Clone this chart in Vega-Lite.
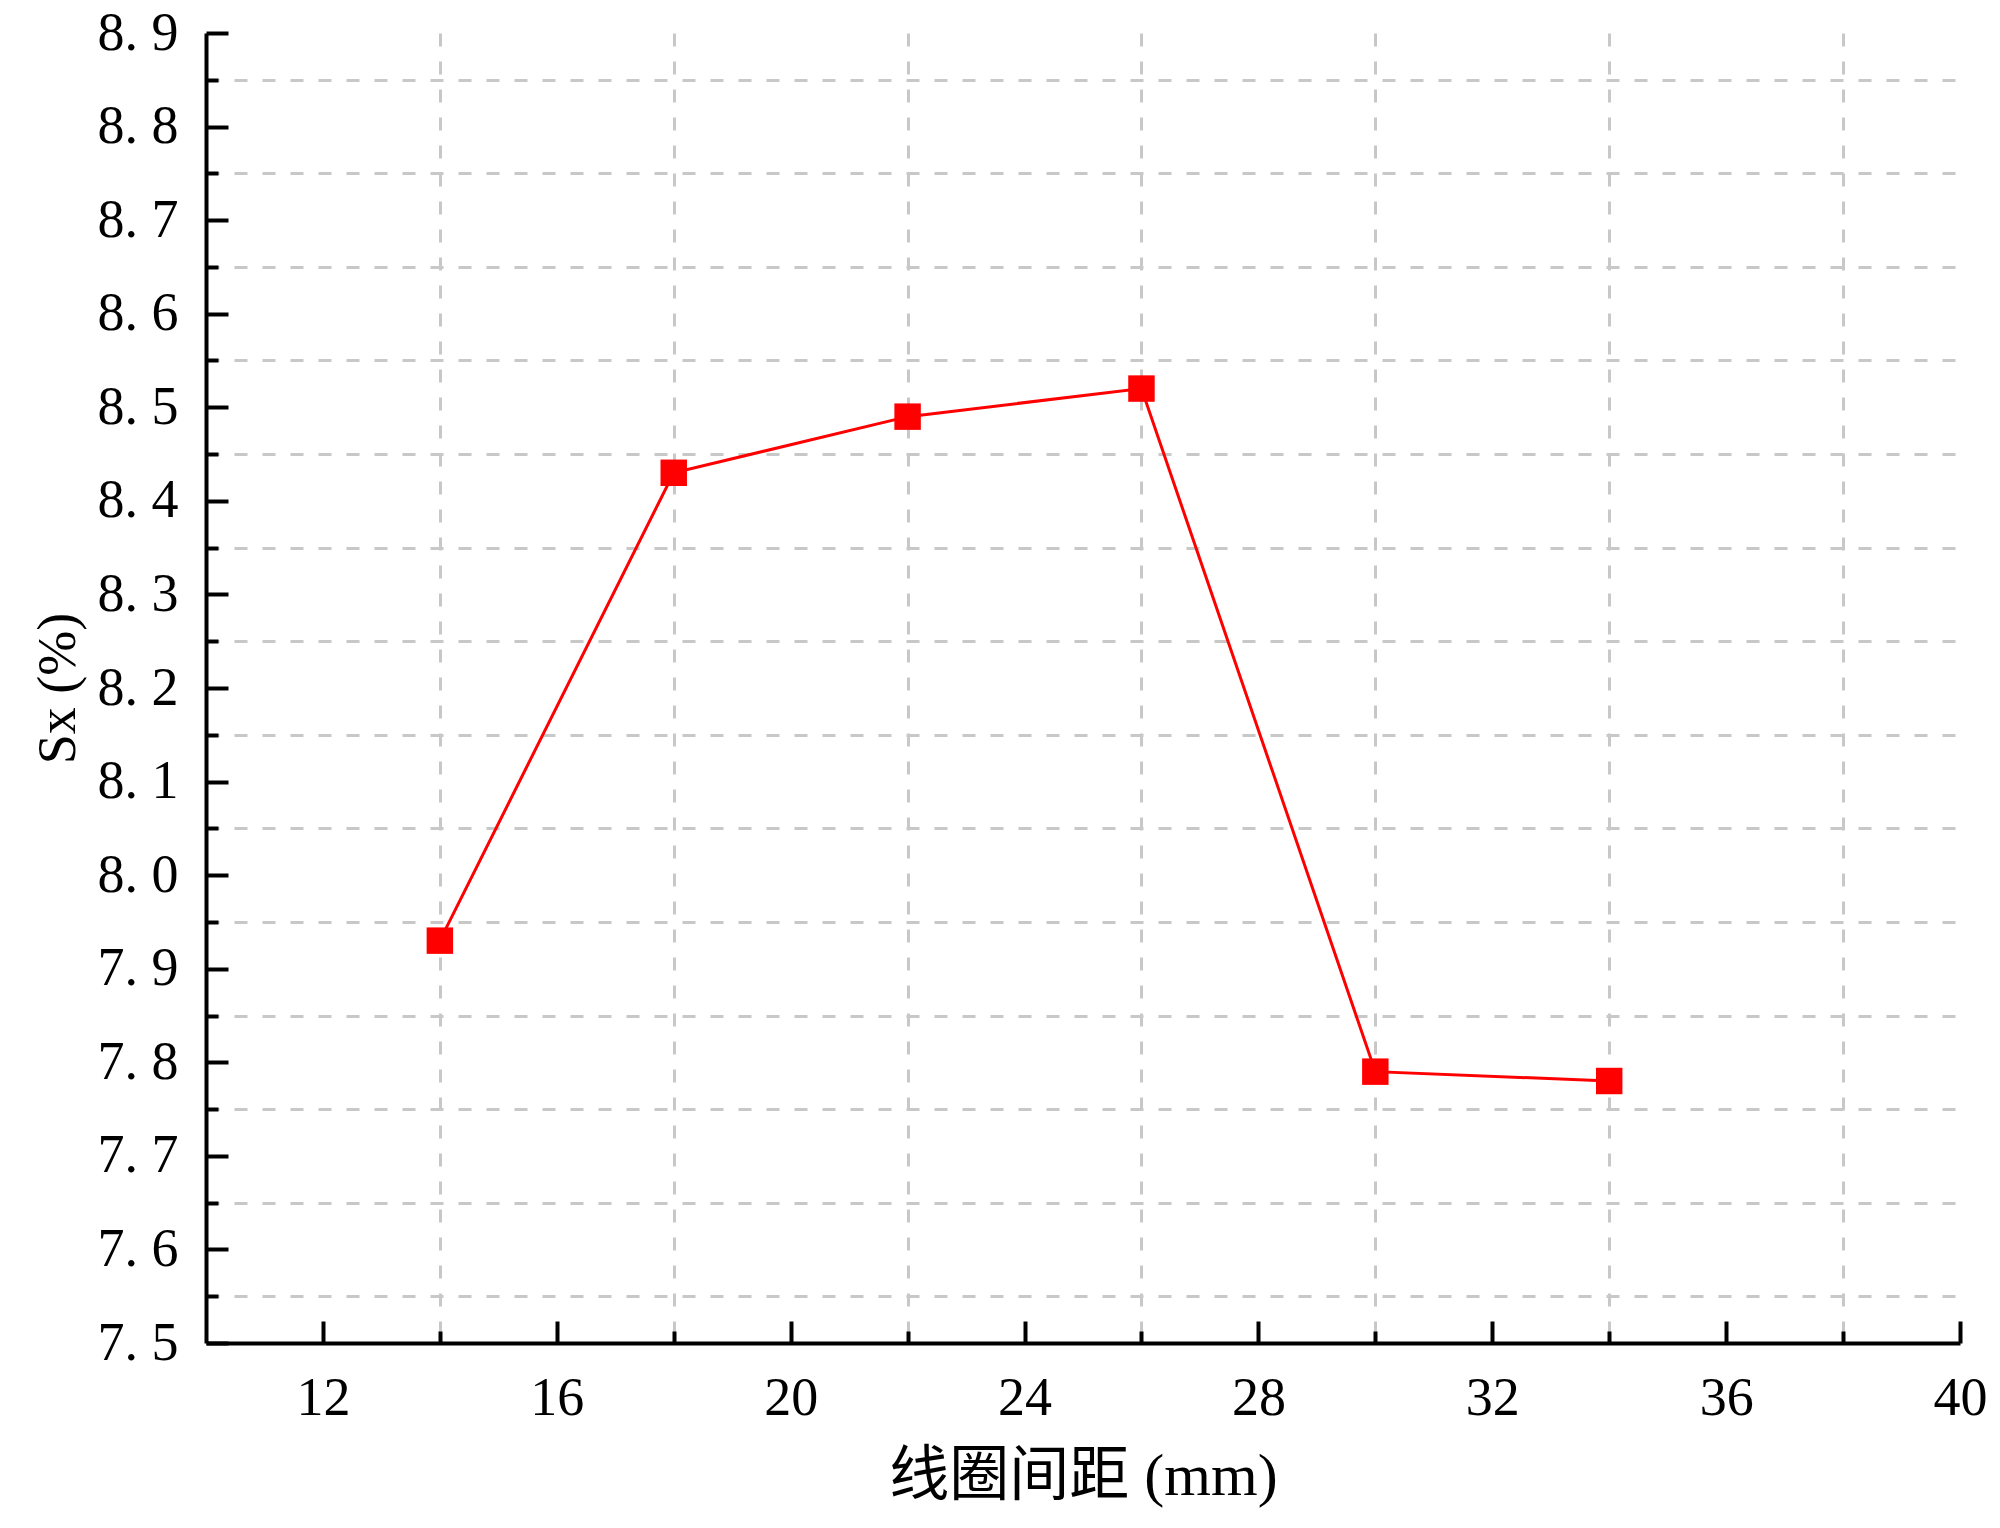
{
  "$schema": "https://vega.github.io/schema/vega-lite/v6.json",
  "width": 1754,
  "height": 1310,
  "autosize": {"type": "none"},
  "padding": {"left": 206, "top": 33, "right": 40, "bottom": 185},
  "background": "white",
  "config": {"view": {"stroke": null}, "font": "Liberation Serif"},
  "data": {
    "values": [
      {"spacing": 14, "sx": 7.93},
      {"spacing": 18, "sx": 8.43},
      {"spacing": 22, "sx": 8.49},
      {"spacing": 26, "sx": 8.52},
      {"spacing": 30, "sx": 7.79},
      {"spacing": 34, "sx": 7.78}
    ]
  },
  "encoding": {
    "x": {
      "field": "spacing",
      "type": "quantitative",
      "scale": {"domain": [10, 40], "nice": false, "zero": false},
      "axis": {
        "values": [12, 14, 16, 18, 20, 22, 24, 26, 28, 30, 32, 34, 36, 38, 40],
        "title": "线圈间距 (mm)",
        "titleFont": "Liberation Serif, Noto Sans CJK SC",
        "titleFontSize": 60,
        "titleFontWeight": "normal",
        "titleColor": "black",
        "titlePadding": 12,
        "labelExpr": "datum.value % 4 == 0 ? datum.label : ''",
        "labelFont": "Liberation Serif",
        "labelFontSize": 54,
        "labelColor": "black",
        "labelPadding": 50,
        "labelFlush": false,
        "labelOverlap": false,
        "domainColor": "black",
        "domainWidth": 4,
        "tickColor": "black",
        "tickWidth": 4,
        "tickSize": {"condition": {"test": "datum.value % 4 == 0", "value": -22}, "value": -12},
        "grid": true,
        "gridColor": "#c8c8c8",
        "gridWidth": 3,
        "gridDash": [13, 15],
        "gridOpacity": {"condition": {"test": "(datum.value - 2) % 4 == 0 && datum.value < 40", "value": 1}, "value": 0}
      }
    },
    "y": {
      "field": "sx",
      "type": "quantitative",
      "scale": {"domain": [7.5, 8.9], "nice": false, "zero": false},
      "axis": {
        "values": [7.5, 7.55, 7.6, 7.65, 7.7, 7.75, 7.8, 7.85, 7.9, 7.95, 8.0, 8.05, 8.1, 8.15, 8.2, 8.25, 8.3, 8.35, 8.4, 8.45, 8.5, 8.55, 8.6, 8.65, 8.7, 8.75, 8.8, 8.85, 8.9],
        "title": "Sx  (%)",
        "titleFont": "Liberation Serif, Noto Sans CJK SC",
        "titleFontSize": 54,
        "titleFontWeight": "normal",
        "titleColor": "black",
        "titlePadding": 12,
        "labelExpr": "round(datum.value * 100) % 10 == 0 ? replace(format(datum.value, '.1f'), '.', '. ') : ''",
        "labelFont": "Liberation Serif",
        "labelFontSize": 54,
        "labelColor": "black",
        "labelPadding": 50,
        "labelFlush": false,
        "labelOverlap": false,
        "domainColor": "black",
        "domainWidth": 4,
        "tickColor": "black",
        "tickWidth": 4,
        "tickSize": {"condition": {"test": "round(datum.value * 100) % 10 == 0", "value": -22}, "value": -12},
        "grid": true,
        "gridColor": "#c8c8c8",
        "gridWidth": 3,
        "gridDash": [13, 15],
        "gridOpacity": {"condition": {"test": "round(datum.value * 100) % 10 == 5", "value": 1}, "value": 0}
      }
    }
  },
  "layer": [
    {"mark": {"type": "line", "color": "#ff0000", "strokeWidth": 3}},
    {"mark": {"type": "point", "shape": "square", "filled": true, "color": "#ff0000", "size": 700, "opacity": 1}}
  ]
}
